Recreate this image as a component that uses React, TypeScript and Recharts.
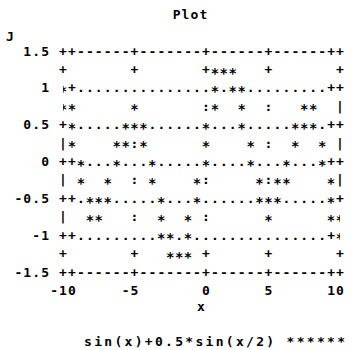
import React from 'react';
import { ScatterChart, Scatter, XAxis, YAxis, ReferenceLine } from 'recharts';

// ---- data ----
const title = 'Plot';
const xLabel = 'x';
const yLabel = 'J';
const seriesName = 'sin(x)+0.5*sin(x/2)';
const legendSample = '******';
const xTicks = [-10, -5, 0, 5, 10];
const xTickLabels = ['-10', '-5', '0', '5', '10'];
const yTicks = [1.5, 1, 0.5, 0, -0.5, -1, -1.5];
const yTickLabels = ['1.5', '1', '0.5', '0', '-0.5', '-1', '-1.5'];
const borderRowsY = [1.5, -1.5];
const gridRowsY = [1, 0.5, 0, -0.5, -1];
const tickRowsY = [1.25, -1.25];
const barRowsY = [0.75, 0.25, -0.25, -0.75];

// curve marks (x, y)
const curveX = [
  -10, -10,
  -9.35, -9.35, -9.35,
  -8.71, -8.71,
  -8.06, -8.06,
  -7.42, -7.42,
  -6.77, -6.77,
  -6.13, -6.13,
  -5.48, -5.48,
  -4.84, -4.84,
  -4.19, -4.19,
  -3.55, -3.55,
  -2.9, -2.9, -2.9,
  -2.26, -2.26,
  -1.61,
  -0.97, -0.97, -0.97,
  -0.32, -0.32,
  0.32, 0.32, 0.32,
  0.97, 0.97, 0.97,
  1.61,
  2.26, 2.26,
  2.9, 2.9, 2.9,
  3.55, 3.55,
  4.19, 4.19,
  4.84, 4.84,
  5.48, 5.48,
  6.13, 6.13,
  6.77, 6.77,
  7.42, 7.42,
  8.06, 8.06,
  8.71, 8.71,
  9.35, 9.35, 9.35,
  10, 10,
];
const curveY = [
  1.0, 0.75,
  0.75, 0.5, 0.25,
  0, -0.25,
  -0.5, -0.75,
  -0.75, -0.5,
  -0.5, -0.25,
  0, 0.25,
  0.25, 0.5,
  0.5, 0.75,
  0.5, 0.25,
  0, -0.25,
  -0.5, -0.75, -1.0,
  -1.0, -1.25,
  -1.25,
  -1.25, -1.0, -0.75,
  -0.5, -0.25,
  0, 0.25, 0.5,
  0.75, 1.0, 1.25,
  1.25,
  1.25, 1.0,
  1.0, 0.75, 0.5,
  0.25, 0,
  -0.25, -0.5,
  -0.5, -0.75,
  -0.5, -0.25,
  -0.25, 0,
  0.25, 0.5,
  0.5, 0.75,
  0.75, 0.5,
  0.25, 0,
  -0.25, -0.5, -0.75,
  -0.75, -1.0,
];

const curve = curveX.map((x, i) => ({ x, y: curveY[i] }));

// ---- layout ----
const CHART_W = 353;
const CHART_H = 350;
const PLOT_LEFT = 63;
const PLOT_RIGHT = 340;
const PLOT_TOP = 51;
const PLOT_BOTTOM = 272;
const COLS = 31;
const PITCH_X = (PLOT_RIGHT - PLOT_LEFT) / COLS;
const PITCH_Y = (PLOT_BOTTOM - PLOT_TOP) / 12;
const FONT = '"DejaVu Sans Mono", "Liberation Mono", monospace';
const FS = 13;
const STAR_FS = 14;
const BASE_DY = 4.5;
const STAR_DY = 8.2;
const X_MIN = xTicks[0];
const X_MAX = xTicks[xTicks.length - 1];
const Y_MIN = yTicks[yTicks.length - 1];
const Y_MAX = yTicks[0];

const colOf = (x: number) => Math.round(((x - X_MIN) / (X_MAX - X_MIN)) * COLS);
const tickCols = xTicks.slice(1, -1).map(colOf);

const occupied = (level: number, c: number) =>
  curve.some((p) => Math.abs(p.y - level) < 1e-6 && colOf(p.x) === c);

const glyph = (ch: string, x: number, y: number, key: string | number, size = FS) => (
  <text
    key={key}
    x={x}
    y={y}
    textAnchor="middle"
    fontFamily={FONT}
    fontWeight="bold"
    fontSize={size}
    fill="#000"
  >
    {ch}
  </text>
);

type Kind = 'border' | 'dots' | 'ticks' | 'bars';

const rowChar = (kind: Kind, c: number): string => {
  const edge = c === 0 || c === COLS;
  const tick = tickCols.includes(c);
  if (kind === 'border') return c <= 1 || c >= COLS - 1 || tick ? '+' : '-';
  if (kind === 'dots') return c <= 1 || c >= COLS - 1 ? '+' : '.';
  if (kind === 'ticks') return edge || tick ? '+' : ' ';
  return edge ? '|' : tick ? ':' : ' ';
};

const AsciiRow = (props: any) => {
  const { x1, x2, y1, kind, level } = props;
  const out: React.ReactNode[] = [];
  for (let c = 0; c <= COLS; c++) {
    const ch = rowChar(kind, c);
    if (ch === ' ' || occupied(level, c)) continue;
    out.push(glyph(ch, x1 + ((x2 - x1) * c) / COLS, y1 + BASE_DY, c));
  }
  return <g>{out}</g>;
};

const renderStar = (p: any) => glyph('*', p.cx, p.cy + STAR_DY, 's', STAR_FS);

const renderXTick = (p: any) => {
  const label = xTickLabels[xTicks.indexOf(p.payload.value)] ?? String(p.payload.value);
  const col = Math.round((p.x - PLOT_LEFT) / PITCH_X);
  const start = col - Math.floor(label.length / 2);
  return (
    <g>
      {label.split('').map((ch, i) =>
        glyph(ch, PLOT_LEFT + (start + i) * PITCH_X, PLOT_BOTTOM + PITCH_Y + BASE_DY, i)
      )}
    </g>
  );
};

const renderYTick = (p: any) => {
  const label = yTickLabels[yTicks.indexOf(p.payload.value)] ?? String(p.payload.value);
  const endCol = -2;
  return (
    <g>
      {label.split('').map((ch, i) =>
        glyph(ch, PLOT_LEFT + (endCol - (label.length - 1 - i)) * PITCH_X, p.y + BASE_DY, i)
      )}
    </g>
  );
};

const textStyle: React.CSSProperties = {
  position: 'absolute',
  fontFamily: FONT,
  fontWeight: 'bold',
  fontSize: FS,
  lineHeight: `${FS}px`,
  whiteSpace: 'pre',
  color: '#000',
};

export default function App() {
  return (
    <div style={{ position: 'absolute', left: 0, top: 0, width: CHART_W, height: CHART_H, background: '#fff', overflow: 'hidden' }}>
      <ScatterChart
        width={CHART_W}
        height={CHART_H}
        margin={{ top: PLOT_TOP, right: CHART_W - PLOT_RIGHT, bottom: 0, left: 0 }}
      >
        <XAxis
          type="number"
          dataKey="x"
          domain={[X_MIN, X_MAX]}
          ticks={xTicks}
          interval={0}
          axisLine={false}
          tickLine={false}
          height={CHART_H - PLOT_BOTTOM}
          tick={renderXTick}
          allowDataOverflow
        />
        <YAxis
          type="number"
          dataKey="y"
          domain={[Y_MIN, Y_MAX]}
          ticks={yTicks}
          interval={0}
          axisLine={false}
          tickLine={false}
          width={PLOT_LEFT}
          tick={renderYTick}
          allowDataOverflow
        />
        {borderRowsY.map((v) => (
          <ReferenceLine key={'b' + v} y={v} shape={(p: any) => <AsciiRow {...p} kind="border" level={v} />} />
        ))}
        {gridRowsY.map((v) => (
          <ReferenceLine key={'g' + v} y={v} shape={(p: any) => <AsciiRow {...p} kind="dots" level={v} />} />
        ))}
        {tickRowsY.map((v) => (
          <ReferenceLine key={'t' + v} y={v} shape={(p: any) => <AsciiRow {...p} kind="ticks" level={v} />} />
        ))}
        {barRowsY.map((v) => (
          <ReferenceLine key={'r' + v} y={v} shape={(p: any) => <AsciiRow {...p} kind="bars" level={v} />} />
        ))}
        <Scatter name={seriesName} data={curve} shape={renderStar} isAnimationActive={false} />
      </ScatterChart>
      <div style={{ ...textStyle, left: 190.5, top: 8, transform: 'translateX(-50%)', letterSpacing: 1.1 }}>{title}</div>
      <div style={{ ...textStyle, left: 6, top: 30 }}>{yLabel}</div>
      <div style={{ ...textStyle, left: 201, top: 300, transform: 'translateX(-50%)' }}>{xLabel}</div>
      <div style={{ ...textStyle, left: 84, top: 335, letterSpacing: 2.3 }}>
        {seriesName} {legendSample}
      </div>
    </div>
  );
}
